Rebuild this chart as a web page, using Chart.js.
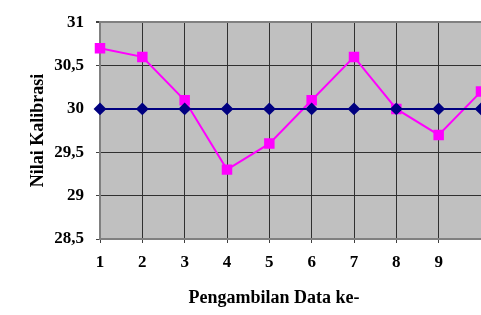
<!DOCTYPE html>
<html>
<head>
<meta charset="utf-8">
<script src="https://cdn.jsdelivr.net/npm/chart.js@4"></script>
<style>
  html, body { margin: 0; padding: 0; background: #fff; overflow: hidden; }
  #wrap { width: 481px; height: 315px; overflow: hidden; }
</style>
</head>
<body>
<div id="wrap"><canvas id="chart" width="490" height="315"></canvas></div>
<script>
// data pengambilan ke-1 s/d ke-10
const categories = ['1', '2', '3', '4', '5', '6', '7', '8', '9', '10'];
const nilaiStandar = [30, 30, 30, 30, 30, 30, 30, 30, 30, 30];
const nilaiKalibrasi = [30.7, 30.6, 30.1, 29.3, 29.6, 30.1, 30.6, 30.0, 29.7, 30.2];
const yTicks = [28.5, 29, 29.5, 30, 30.5, 31];

const xTitle = 'Pengambilan Data ke-';
const yTitle = 'Nilai Kalibrasi';

const serif = '"Liberation Serif", "Times New Roman", serif';

// background abu-abu untuk area plot
const plotBg = {
    id: 'plotBg',
    beforeDraw(chart) {
        const a = chart.chartArea;
        const ctx = chart.ctx;
        ctx.save();
        ctx.fillStyle = '#c0c0c0';
        ctx.fillRect(a.left, a.top, a.right - a.left, a.bottom - a.top);
        ctx.restore();
    }
};

// judul sumbu x (agak ke kiri seperti aslinya)
const xTitlePlugin = {
    id: 'xTitlePlugin',
    afterDraw(chart) {
        const ctx = chart.ctx;
        ctx.save();
        ctx.font = 'bold 18px ' + serif;
        ctx.fillStyle = '#000';
        ctx.textAlign = 'center';
        ctx.textBaseline = 'middle';
        ctx.fillText(xTitle, 274, 298);
        ctx.restore();
    }
};

const ctx = document.getElementById('chart').getContext('2d');
new Chart(ctx, {
    type: 'line',
    data: {
        labels: categories,
        datasets: [
            {
                label: 'Standar',
                data: nilaiStandar,
                borderColor: '#000080',
                backgroundColor: '#000080',
                borderWidth: 2,
                pointStyle: 'rectRot',
                pointRadius: 5,
                pointHoverRadius: 5,
                tension: 0
            },
            {
                label: 'Kalibrasi',
                data: nilaiKalibrasi,
                borderColor: '#ff00ff',
                backgroundColor: '#ff00ff',
                borderWidth: 2,
                pointStyle: 'rect',
                pointRadius: 6,
                pointHoverRadius: 6,
                tension: 0
            }
        ]
    },
    options: {
        responsive: false,
        animation: false,
        events: [],
        layout: { padding: { top: 20, right: 5, bottom: 0, left: 0 } },
        plugins: {
            legend: { display: false },
            tooltip: { enabled: false }
        },
        scales: {
            x: {
                offset: false,
                grid: {
                    color: '#303030',
                    lineWidth: 1,
                    tickLength: 4,
                    tickColor: '#404040'
                },
                border: { color: '#808080', width: 2 },
                ticks: {
                    color: '#000',
                    padding: 9,
                    maxRotation: 0,
                    autoSkip: false,
                    font: { family: serif, size: 17, weight: 'bold' },
                    callback: (v, i) => (i < categories.length - 1 ? categories[i] : '')
                },
                afterFit: (scale) => { scale.height = 76; }
            },
            y: {
                min: yTicks[0],
                max: yTicks[yTicks.length - 1],
                afterBuildTicks: (scale) => { scale.ticks = yTicks.map(v => ({ value: v })); },
                grid: {
                    color: (c) => (c.tick && c.tick.value === 31 ? '#808080' : '#303030'),
                    lineWidth: (c) => (c.tick && c.tick.value === 31 ? 2 : 1),
                    tickLength: 4,
                    tickColor: '#404040'
                },
                border: { color: '#808080', width: 2 },
                ticks: {
                    color: '#000',
                    padding: 12,
                    font: { family: serif, size: 17, weight: 'bold' },
                    callback: (v) => String(v).replace('.', ',')
                },
                title: {
                    display: true,
                    text: yTitle,
                    color: '#000',
                    padding: { top: 28, bottom: 0 },
                    font: { family: serif, size: 18, weight: 'bold' }
                },
                afterFit: (scale) => { scale.width = 100; }
            }
        }
    },
    plugins: [plotBg, xTitlePlugin]
});
</script>
</body>
</html>
